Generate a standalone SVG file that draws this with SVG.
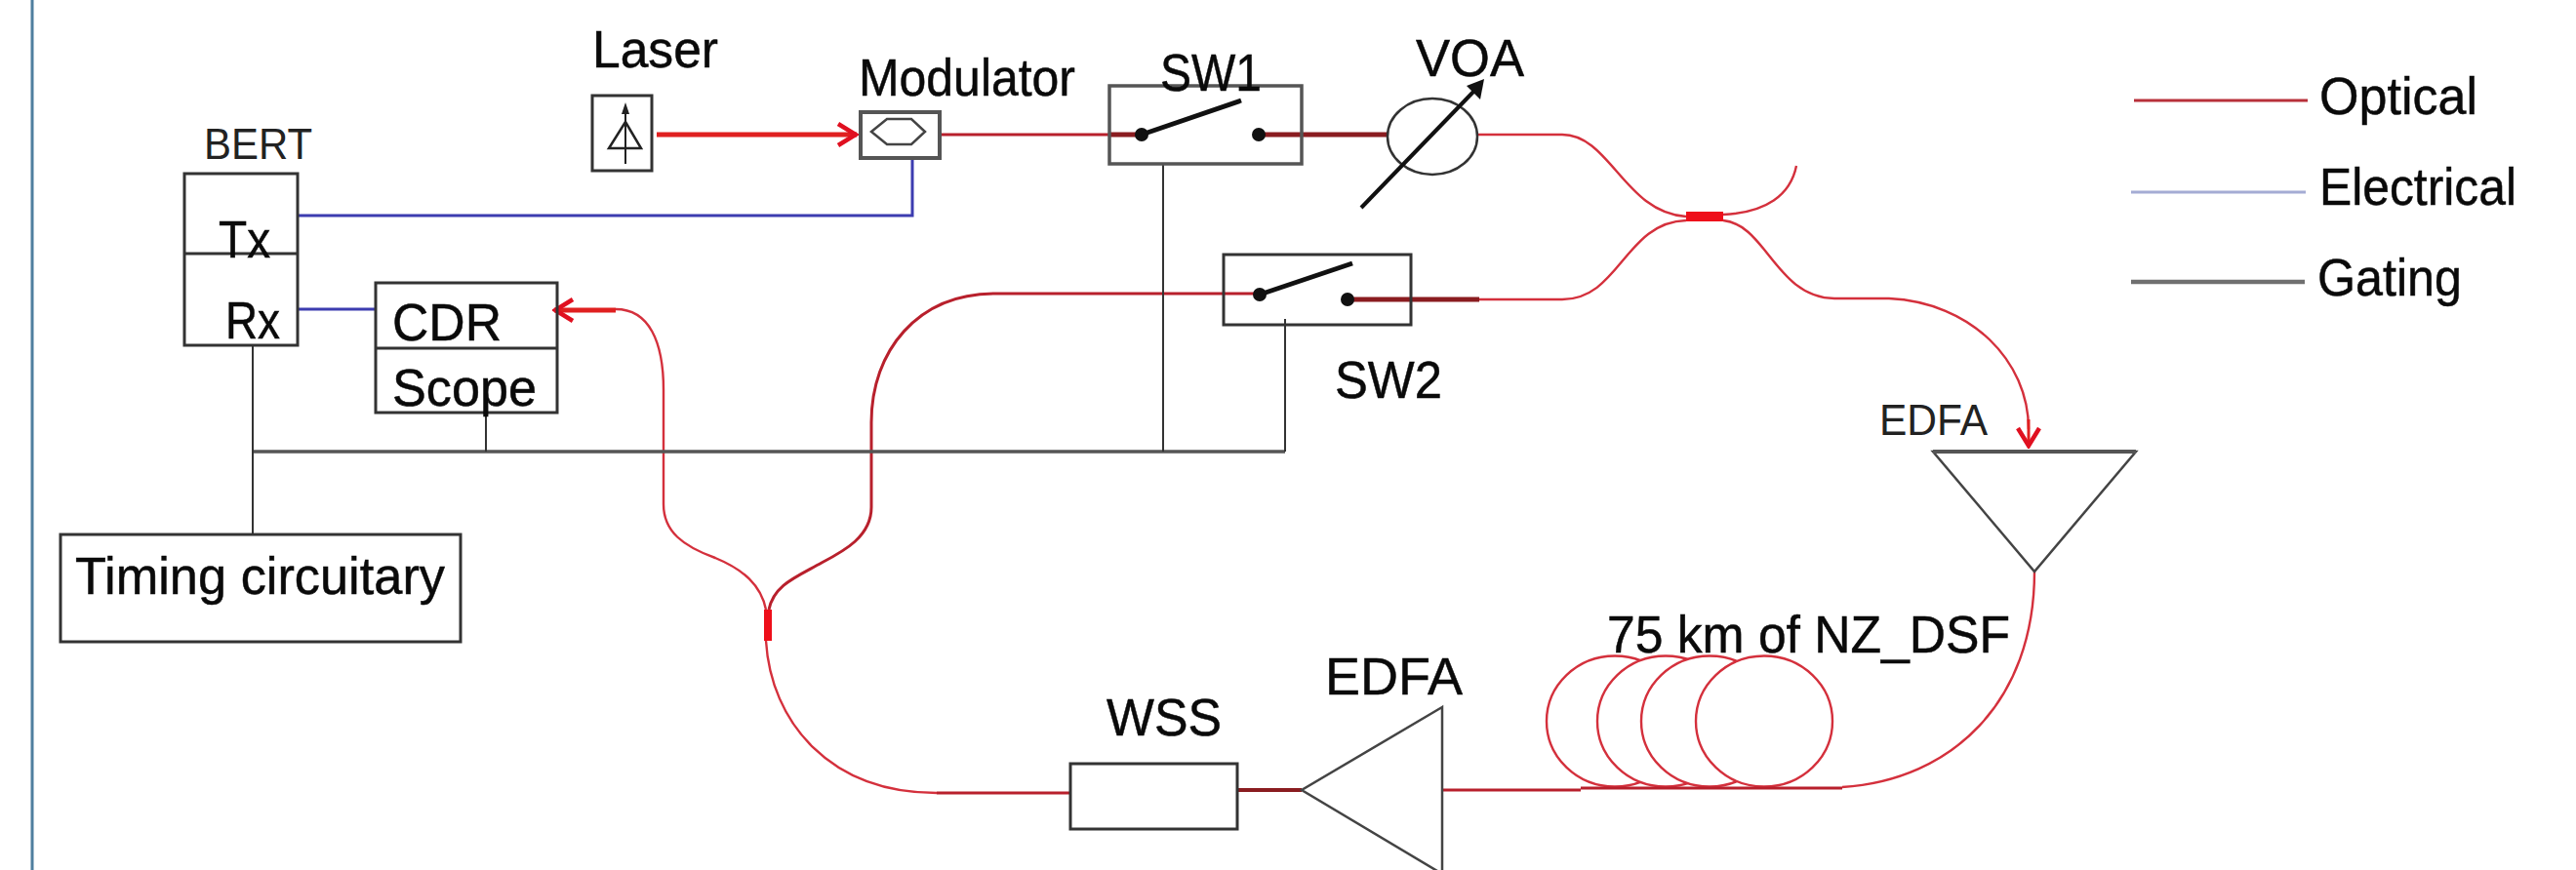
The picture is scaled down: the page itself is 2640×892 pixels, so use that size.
<svg xmlns="http://www.w3.org/2000/svg" width="2640" height="892" viewBox="0 0 2640 892">
<style>
text{font-family:"Liberation Sans",Arial,sans-serif;font-size:54px;fill:#0a0a0a;stroke:#0a0a0a;stroke-width:.5}
.thin{font-size:44px;fill:#222;stroke:none}
.box{fill:none;stroke:#333;stroke-width:3}
.wbox{fill:#fff;stroke:#333;stroke-width:3}
.o{fill:none;stroke:#d4303c;stroke-width:2.4}
.ok{fill:none;stroke:#b8202c;stroke-width:3}
.ot{fill:none;stroke:#e02020;stroke-width:5}
.dk{fill:none;stroke:#8a1c20;stroke-width:5}
.e{fill:none;stroke:#3c3cb0;stroke-width:3}
.g{fill:none;stroke:#333;stroke-width:2}
.gt{fill:none;stroke:#555;stroke-width:3.5}
.lever{stroke:#111;stroke-width:5;fill:none}
.coil{fill:#fff;stroke:#d4303c;stroke-width:2.4}
</style>
<defs>
<marker id="arr" viewBox="-24 -14 26 28" refX="0" refY="0" markerWidth="26" markerHeight="28" markerUnits="userSpaceOnUse" orient="auto">
<path d="M-19,-11 L-1,0 L-19,11" fill="none" stroke="#e01020" stroke-width="4.5"/>
</marker>
</defs>
<rect width="2640" height="892" fill="#fff"/>
<line id="frame" x1="33" y1="0" x2="33" y2="892" stroke="#4f7f9f" stroke-width="3"/>

<g id="fibre-coil">
<ellipse class="coil" cx="1655" cy="739.5" rx="70" ry="67"/>
<ellipse class="coil" cx="1707" cy="739.5" rx="70" ry="67"/>
<ellipse class="coil" cx="1752" cy="739.5" rx="70" ry="67"/>
<ellipse class="coil" cx="1808" cy="739.5" rx="70" ry="67"/>
<text x="1647" y="669" textLength="413" lengthAdjust="spacingAndGlyphs">75 km of NZ_DSF</text>
</g>

<g id="connectors">
<path class="ot" d="M673 138H878" marker-end="url(#arr)"/>
<path class="ok" d="M963 138H1140"/>
<path class="dk" d="M1137 138H1170"/>
<path class="dk" stroke-width="6" d="M1290 138H1422"/>
<path class="o" d="M1513 138H1601C1650 138 1665 218 1728 222"/>
<path class="o" d="M1766 220C1810 218 1835 200 1841 170"/>
<path class="o" d="M1516 307H1601C1660 307 1665 228 1728 226"/>
<path class="o" d="M1766 226C1810 230 1820 305 1880 306H1936C2020 310 2079 370 2079 440"/>
<path class="ot" style="stroke-width:3" d="M2079 430V458" marker-end="url(#arr)"/>
<path class="dk" d="M1381 307H1516"/>
<path class="ok" d="M1291 301H1020C940 301 893 360 893 433V520C893 550 865 565 842 577C815 592 793 600 788 625"/>
<path class="o" d="M631 317C665 317 680 350 680 400V517C680 545 700 560 733 572C762 584 780 600 785 625"/>
<path class="ot" d="M631 318H568" marker-end="url(#arr)"/>
<path class="o" d="M785 657C790 740 850 813 960 813"/>
<path class="ok" d="M960 813H1097"/>
<path class="dk" style="stroke-width:4" d="M1268 810H1334"/>
<path class="ok" d="M1478 810H1620"/>
<path class="ok" d="M1620 808H1888"/>
<path class="o" d="M1888 807C2000 800 2085 720 2085 586"/>
<path class="e" d="M305 221H935V162"/>
<path class="e" d="M305 317H385"/>
<path class="g" d="M259 354V548"/>
<path class="gt" d="M260 463H1317"/>
<path class="g" d="M498 423V463"/>
<path class="g" d="M1192 168V463"/>
<path class="g" d="M1317 327V463"/>
</g>

<g id="coupler-top"><rect x="1728" y="217" width="38" height="10" fill="#ee0f1a"/></g>
<g id="coupler-left"><rect x="783" y="625" width="8" height="32" fill="#ee0f1a"/></g>

<g id="bert">
<text class="thin" x="209" y="163" textLength="111" lengthAdjust="spacingAndGlyphs">BERT</text>
<rect class="box" x="189" y="178" width="116" height="176"/>
<line class="box" x1="189" y1="260" x2="305" y2="260"/>
<text x="224" y="264" textLength="53" lengthAdjust="spacingAndGlyphs">Tx</text>
<text x="231" y="347" textLength="56" lengthAdjust="spacingAndGlyphs">Rx</text>
</g>
<g id="cdr-scope">
<rect class="box" x="385" y="290" width="186" height="133"/>
<line class="box" x1="385" y1="357" x2="571" y2="357"/>
<text x="402" y="349" textLength="112" lengthAdjust="spacingAndGlyphs">CDR</text>
<text x="402" y="416" textLength="148" lengthAdjust="spacingAndGlyphs">Scope</text>
</g>
<g id="laser">
<text x="607" y="69" textLength="129" lengthAdjust="spacingAndGlyphs">Laser</text>
<rect class="box" x="607" y="98" width="61" height="77"/>
<path d="M641 168V116" fill="none" stroke="#222" stroke-width="2"/>
<path d="M641 105L637 117H645Z" fill="#222"/>
<path d="M641 125L624 152H657Z" fill="none" stroke="#222" stroke-width="2.5"/>
</g>
<g id="modulator">
<text x="880" y="98" textLength="222" lengthAdjust="spacingAndGlyphs">Modulator</text>
<rect x="882" y="115" width="81" height="47" fill="none" stroke="#555" stroke-width="4"/>
<path d="M893 135L909 122H934L948 135L934 148H909Z" fill="none" stroke="#444" stroke-width="2.5"/>
</g>
<g id="sw1">
<rect x="1137" y="88" width="197" height="80" fill="none" stroke="#555" stroke-width="3.5"/>
<text x="1189" y="93" textLength="104" lengthAdjust="spacingAndGlyphs">SW1</text>
<circle cx="1170" cy="138" r="7" fill="#111"/>
<circle cx="1290" cy="138" r="7" fill="#111"/>
<line class="lever" x1="1170" y1="138" x2="1272" y2="103"/>
</g>
<g id="voa">
<ellipse cx="1468" cy="140" rx="46" ry="39" fill="none" stroke="#333" stroke-width="2.5"/>
<path d="M1395 213L1512 92" fill="none" stroke="#111" stroke-width="4"/>
<path d="M1521 81L1517 102L1503 88Z" fill="#111"/>
<text x="1451" y="78" textLength="111" lengthAdjust="spacingAndGlyphs">VOA</text>
</g>
<g id="sw2">
<rect class="box" x="1254" y="261" width="192" height="72"/>
<circle cx="1291" cy="302" r="7" fill="#111"/>
<circle cx="1381" cy="307" r="7" fill="#111"/>
<line class="lever" x1="1291" y1="302" x2="1386" y2="270"/>
<text x="1368" y="408" textLength="110" lengthAdjust="spacingAndGlyphs">SW2</text>
</g>
<g id="timing">
<rect class="box" x="62" y="548" width="410" height="110"/>
<text x="77" y="609" textLength="379" lengthAdjust="spacingAndGlyphs">Timing circuitary</text>
</g>
<g id="wss">
<text x="1134" y="754" textLength="118" lengthAdjust="spacingAndGlyphs">WSS</text>
<rect class="box" x="1097" y="783" width="171" height="67"/>
</g>
<g id="edfa-bottom">
<text x="1358" y="712" textLength="141" lengthAdjust="spacingAndGlyphs">EDFA</text>
<path d="M1478 725L1334 810L1478 896Z" fill="none" stroke="#444" stroke-width="2.5"/>
</g>
<g id="edfa-top">
<text class="thin" x="1926" y="446" textLength="111" lengthAdjust="spacingAndGlyphs">EDFA</text>
<path d="M1981 463H2189L2085 586Z" fill="none" stroke="#444" stroke-width="2.5"/>
<line x1="1981" y1="463" x2="2189" y2="463" stroke="#555" stroke-width="4"/>
</g>
<g id="legend">
<line x1="2187" y1="103" x2="2365" y2="103" stroke="#b8303a" stroke-width="3"/>
<text x="2377" y="117" textLength="162" lengthAdjust="spacingAndGlyphs">Optical</text>
<line x1="2184" y1="197" x2="2363" y2="197" stroke="#a4acd4" stroke-width="3"/>
<text x="2377" y="210" textLength="202" lengthAdjust="spacingAndGlyphs">Electrical</text>
<line x1="2184" y1="289" x2="2362" y2="289" stroke="#707070" stroke-width="4.5"/>
<text x="2375" y="303" textLength="148" lengthAdjust="spacingAndGlyphs">Gating</text>
</g>
</svg>
